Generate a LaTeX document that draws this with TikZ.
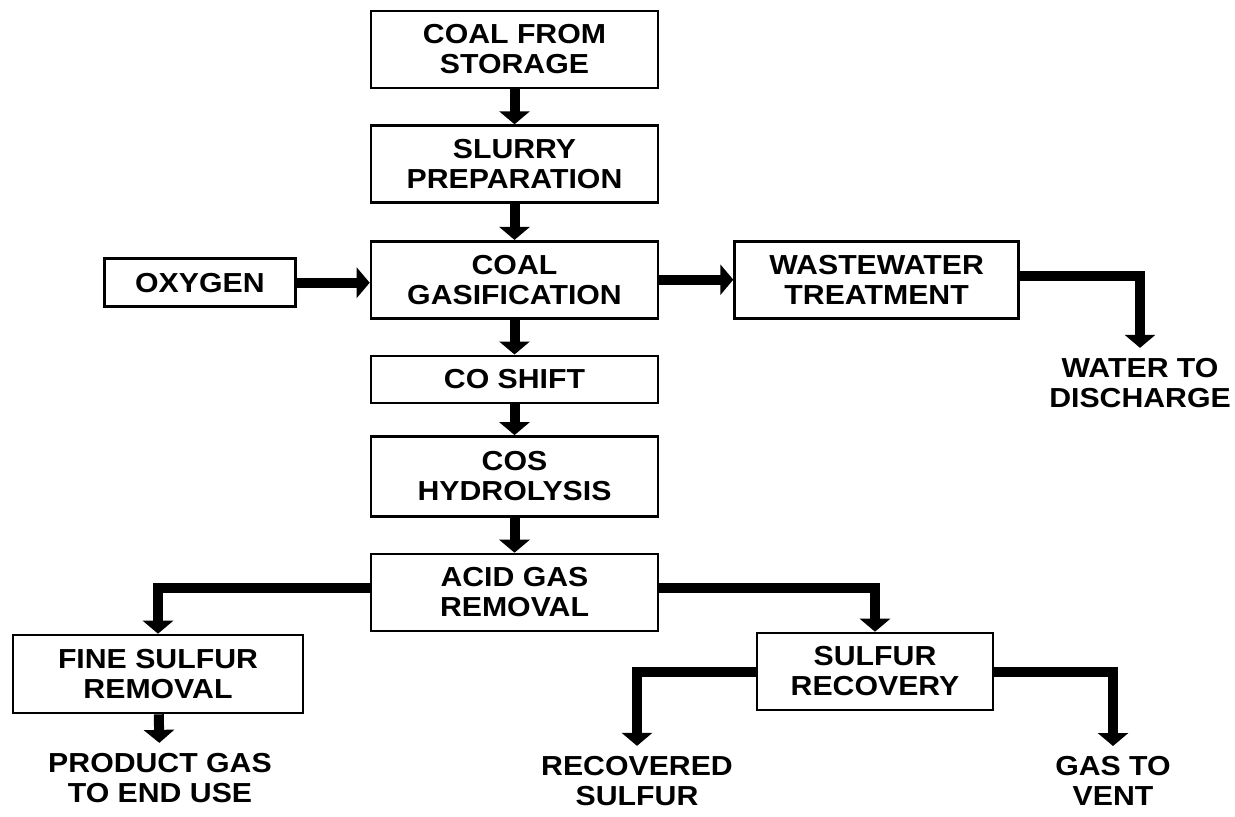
\documentclass[tikz,border=0pt]{standalone}
\usepackage{fontspec}
\setmainfont{Liberation Sans}[FakeStretch=1.1]
\usetikzlibrary{positioning}
\usetikzlibrary{arrows.meta}

\tikzset{
  procbox/.style={draw, line width=1.3pt, minimum width=143.5pt, minimum height=38.5pt,
    align=center, inner sep=2pt, font=\bfseries\fontsize{13.75pt}{15pt}\selectfont},
  endtext/.style={align=center, inner sep=5pt, font=\bfseries\fontsize{13.75pt}{15pt}\selectfont},
  flow/.style={line width=5pt, -{Triangle[width=15pt,length=6.5pt]}},
}

\begin{document}
\begin{tikzpicture}[x=0.5pt, y=-0.5pt]
        \useasboundingbox (0,0) rectangle (1235,816);
        % nodes %
        \node[procbox] (store) at (514.5,49.5) {COAL FROM\\STORAGE};
        \node[procbox, below=17.5pt of store] (slurry) {SLURRY\\PREPARATION};
        \node[procbox, below=18pt of slurry] (gasif) {COAL\\GASIFICATION};
        \node[procbox, minimum height=23.5pt, below=17.5pt of gasif] (shift) {CO SHIFT};
        \node[procbox, minimum height=40pt, below=15.5pt of shift] (cos) {COS\\HYDROLYSIS};
        \node[procbox, below=17.5pt of cos] (acid) {ACID GAS\\REMOVAL};
        \node[procbox, minimum width=95.5pt, minimum height=24pt, left=36.5pt of gasif, yshift=-1.5pt] (oxy) {OXYGEN};
        \node[procbox, minimum width=142pt, right=37pt of gasif] (waste) {WASTEWATER\\TREATMENT};
        \node[endtext] (water) at (1140,383) {WATER TO\\DISCHARGE};
        \node[procbox, minimum width=145pt, minimum height=39pt] (fine) at (158,674) {FINE SULFUR\\REMOVAL};
        \node[endtext] (product) at (160,778) {PRODUCT GAS\\TO END USE};
        \node[procbox, minimum width=118pt] (sulrec) at (875,671.5) {SULFUR\\RECOVERY};
        \node[endtext] (recov) at (637,781) {RECOVERED\\SULFUR};
        \node[endtext] (vent) at (1113,781) {GAS TO\\VENT};
        % edges %
        \draw[flow] (store) -- (slurry);
        \draw[flow] (slurry) -- (gasif);
        \draw[flow] (gasif) -- (shift);
        \draw[flow] (shift) -- (cos);
        \draw[flow] (cos) -- (acid);
        \draw[flow] (oxy) -- (oxy -| gasif.west);
        \draw[flow] (gasif) -- (waste);
        \draw[flow] ([yshift=2pt]waste.east) -| (water.north);
        \draw[flow] ([yshift=2.5pt]acid.west) -| (fine.north);
        \draw[flow] (fine) -- (product);
        \draw[flow] ([yshift=2.5pt]acid.east) -| (sulrec.north);
        \draw[flow] (sulrec.west) -| (recov.north);
        \draw[flow] (sulrec.east) -| (vent.north);
\end{tikzpicture}
\end{document}
